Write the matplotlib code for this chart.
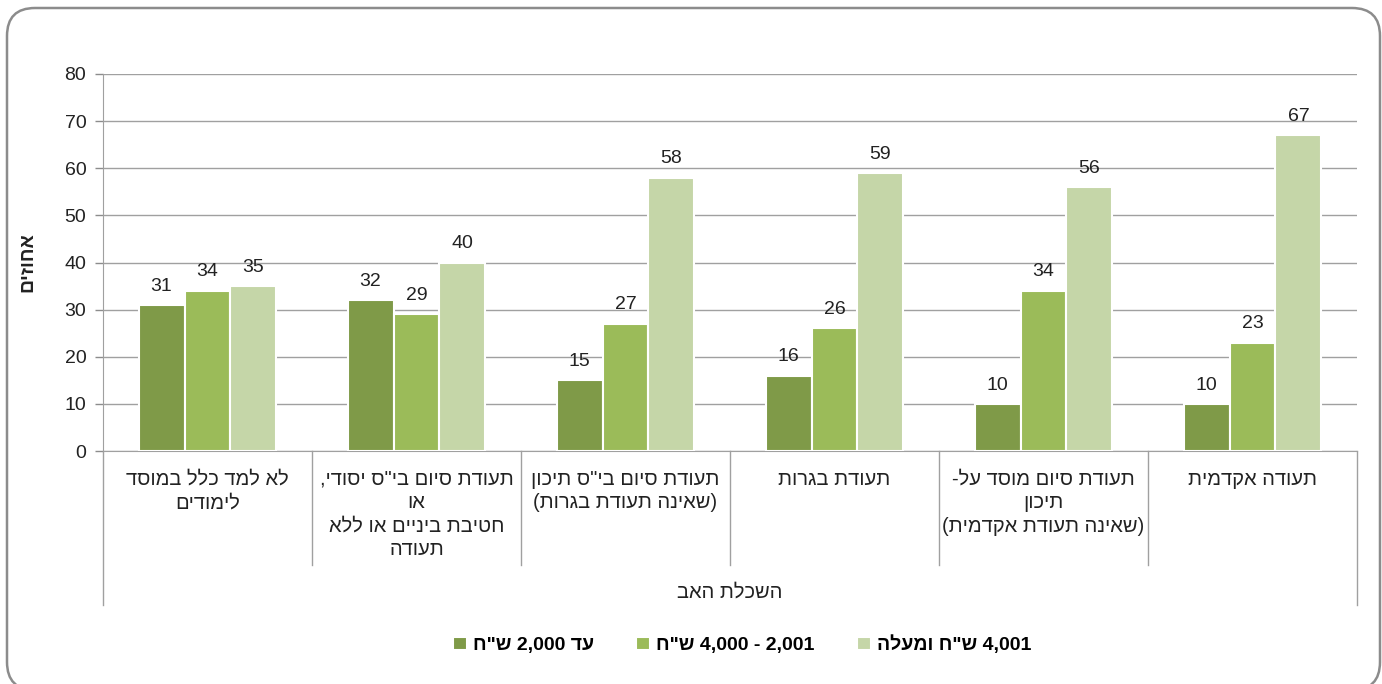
import re
import matplotlib
matplotlib.use("Agg")
import matplotlib.pyplot as plt
import numpy as np
from matplotlib.patches import FancyBboxPatch
from matplotlib.lines import Line2D

plt.rcParams['font.family'] = ['Liberation Sans', 'DejaVu Sans']


def vis(s):
    # simple bidi: reverse hebrew, keep number runs, mirror brackets
    r = s[::-1]
    r = re.sub(r'[0-9][0-9,.]*[0-9]|[0-9]', lambda m: m.group(0)[::-1], r)
    r = r.translate(str.maketrans('()', ')('))
    return r


def vis_lines(s):
    return "\n".join(vis(line) for line in s.split("\n"))


# Data
categories = [
    "לא למד כלל במוסד\nלימודים",
    "תעודת סיום בי\"ס יסודי,\nאו\nחטיבת ביניים או ללא\nתעודה",
    "תעודת סיום בי\"ס תיכון\n(שאינה תעודת בגרות)",
    "תעודת בגרות",
    "תעודת סיום מוסד על-\nתיכון\n(שאינה תעודת אקדמית)",
    "תעודה אקדמית",
]
series_names = ["עד 2,000 ש\"ח", "2,001 - 4,000 ש\"ח", "4,001 ש\"ח ומעלה"]
low_income = [31, 32, 15, 16, 10, 10]
mid_income = [34, 29, 27, 26, 34, 23]
high_income = [35, 40, 58, 59, 56, 67]
y_ticks = [0, 10, 20, 30, 40, 50, 60, 70, 80]

colors = ["#7F9A48", "#9BBB59", "#C5D6A8"]
series = [low_income, mid_income, high_income]

fig = plt.figure(figsize=(13.82, 6.84), dpi=100)
ax = fig.add_axes([103 / 1382, 1 - 451 / 684, 1254 / 1382, 377 / 684])

x = np.arange(len(categories))
width = 0.22
for i, (vals, col) in enumerate(zip(series, colors)):
    pos = x + (i - 1) * width
    bars = ax.bar(pos, vals, width, color=col, edgecolor="white",
                  linewidth=1.5, zorder=3, label=vis(series_names[i]))
    for xp, v in zip(pos, vals):
        ax.text(xp, v + 2.2, str(v), ha="center", va="bottom",
                fontsize=14, color="#222222", zorder=4)

ax.set_xlim(-0.5, len(categories) - 0.5)
ax.set_ylim(0, 80)
ax.set_yticks(y_ticks)
ax.tick_params(axis="y", labelsize=14, colors="#8C8C8C", labelcolor="#222222",
               length=6, width=1, pad=6)
ax.yaxis.grid(True, color="#A0A0A0", linewidth=1, zorder=0)
ax.set_xticks([])
for s in ["top", "right"]:
    ax.spines[s].set_visible(False)
ax.spines["left"].set_color("#A0A0A0")
ax.spines["bottom"].set_color("#A0A0A0")

# multi-level category axis
trans = ax.get_xaxis_transform()
for b in np.arange(-0.5, len(categories), 1.0):
    bottom = -0.408 if b in (-0.5, len(categories) - 0.5) else -0.302
    ax.add_line(Line2D([b, b], [0, bottom], transform=trans, color="#A0A0A0",
                       linewidth=1, clip_on=False))
for xi, cat in zip(x, categories):
    ax.text(xi, -0.05, vis_lines(cat), transform=trans, ha="center", va="top",
            fontsize=14.5, color="#222222", linespacing=1.3)
ax.text((len(categories) - 1) / 2, -0.375, vis("השכלת האב"), transform=trans,
        ha="center", va="center", fontsize=14.5, color="#222222")

fig.text(28 / 1382, 1 - 262 / 684, vis("אחוזים"), rotation=90, ha="center",
         va="center", fontsize=14, fontweight="bold", color="#222222")

leg = fig.legend(loc="center", bbox_to_anchor=(742 / 1382, 1 - 645 / 684),
                 ncol=3, frameon=False, handlelength=0.7, handleheight=0.7,
                 handletextpad=0.3, columnspacing=2.2,
                 prop={"size": 14, "weight": "bold"})

border = FancyBboxPatch((0.07, -0.06), 13.73, 6.82,
                        boxstyle="round,pad=0,rounding_size=0.28",
                        transform=fig.dpi_scale_trans, facecolor="none",
                        edgecolor="#8C8C8C", linewidth=1.8)
fig.patches.append(border)

fig.savefig("out.png", dpi=100)
